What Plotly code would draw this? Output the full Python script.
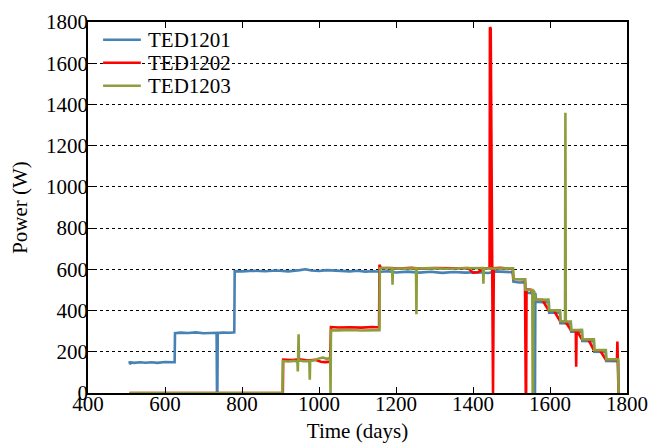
import plotly.graph_objects as go

# TED1201 power log (days, W)
ted1201_days = [508, 509, 512, 520, 535, 550, 565, 580, 600, 615, 625,
                626, 640, 660, 680, 700, 720, 734, 735, 736, 737, 750, 770, 780,
                781, 800, 830, 860, 890, 920, 950, 965, 980, 1000, 1020, 1050,
                1080, 1100, 1120, 1140, 1160, 1180, 1200, 1230, 1260, 1290, 1320,
                1350, 1380, 1410, 1440, 1460, 1480, 1503,
                1505, 1520, 1535, 1537, 1550, 1559, 1560, 1561, 1562, 1564, 1580,
                1597, 1598, 1612, 1626, 1627, 1640, 1654, 1655, 1670, 1683, 1684,
                1700, 1714, 1715, 1730, 1745, 1746, 1760, 1777, 1778]
ted1201_power = [155, 140, 148, 146, 149, 147, 149, 146, 150, 148, 149,
                 290, 293, 291, 294, 290, 293, 292, 0, 0, 291, 293, 292, 294,
                 591, 590, 593, 591, 594, 590, 596, 600, 594, 592, 596, 592,
                 590, 593, 589, 591, 588, 591, 585, 589, 584, 588, 583,
                 587, 584, 586, 582, 590, 588, 586,
                 540, 536, 538, 488, 484, 486, 0, 0, 485, 442, 440,
                 441, 390, 388, 389, 338, 336, 337, 298, 297, 298, 252,
                 250, 251, 200, 198, 199, 155, 153, 154, 0]

# TED1202 power log (days, W)
ted1202_days = [508, 906, 907, 930, 950, 970, 990, 1005, 1015, 1029,
                1031, 1050, 1080, 1110, 1140, 1156,
                1157, 1160, 1180, 1210, 1240, 1270, 1300, 1330, 1360, 1387,
                1400, 1413, 1430, 1443, 1444, 1446, 1450, 1452, 1454, 1470,
                1490, 1503, 1505, 1520, 1535, 1537, 1538, 1539, 1550,
                1563, 1580, 1596, 1610, 1626, 1640, 1654, 1667, 1668,
                1669, 1683, 1700, 1714, 1730, 1745, 1760, 1774, 1775, 1776, 1778]
ted1202_power = [0, 0, 162, 160, 163, 158, 161, 152, 150, 152,
                 320, 318, 319, 317, 320, 318,
                 622, 608, 606, 604, 607, 603, 606, 604, 605, 606,
                 584, 586, 604, 606, 1775, 1768, 606, 0, 605, 607,
                 604, 605, 553, 551, 552, 0, 0, 503, 501,
                 454, 452, 402, 400, 349, 347, 306, 305, 127,
                 305, 260, 258, 208, 206, 162, 160, 161, 250, 162, 0]

# TED1203 power log (days, W)
ted1203_days = [508, 905, 906, 920, 935, 944, 945, 946, 947, 948, 960,
                975, 976, 977, 990, 1000, 1010, 1020, 1029, 1030, 1031,
                1050, 1080, 1110, 1140, 1157, 1158, 1175, 1190, 1191, 1192,
                1220, 1252, 1253, 1254, 1290, 1330, 1370, 1400, 1426, 1427,
                1428, 1460, 1490, 1504, 1505, 1520, 1535, 1536, 1554, 1555,
                1556, 1557, 1563, 1580, 1596, 1597, 1612, 1626, 1627, 1639,
                1640, 1641, 1654, 1655, 1670, 1683, 1684, 1700, 1714, 1715,
                1730, 1745, 1746, 1760, 1777, 1778]
ted1203_power = [0, 0, 155, 153, 156, 152, 105, 154, 285, 158, 154,
                 155, 65, 156, 160, 168, 172, 166, 170, 0, 305,
                 304, 306, 303, 305, 305, 605, 604, 606, 525, 605,
                 604, 605, 382, 604, 606, 603, 605, 604, 606, 530,
                 605, 604, 606, 605, 553, 551, 552, 501, 500, 0,
                 0, 500, 453, 452, 453, 401, 400, 401, 349, 348,
                 1360, 348, 347, 306, 305, 306, 260, 259, 260, 208,
                 207, 208, 163, 162, 163, 0]

series_names = ["TED1201", "TED1202", "TED1203"]
series_colors = ["#4682b4", "#ff0000", "#8c9f3c"]

x_ticks = [400, 600, 800, 1000, 1200, 1400, 1600, 1800]
y_ticks = [0, 200, 400, 600, 800, 1000, 1200, 1400, 1600, 1800]

FONT = "Liberation Serif"
FSIZE = 21
LINE_W = 2.6

fig = go.Figure()
for name, color, xs, ys in zip(series_names, series_colors,
                               [ted1201_days, ted1202_days, ted1203_days],
                               [ted1201_power, ted1202_power, ted1203_power]):
    fig.add_trace(go.Scatter(x=xs, y=ys, mode="lines", name=name,
                             line=dict(color=color, width=LINE_W),
                             showlegend=False))

axis_common = dict(
    showline=True, linecolor="black", linewidth=1.5, mirror="ticks",
    ticks="inside", ticklen=6, tickcolor="black", tickwidth=1,
    zeroline=False, automargin=False,
    tickfont=dict(family=FONT, size=FSIZE, color="black"),
)

fig.update_xaxes(range=[400, 1800], tickvals=x_ticks, showgrid=False,
                 ticklabelstandoff=-9,
                 title=dict(text="Time (days)", standoff=9,
                            font=dict(family=FONT, size=FSIZE, color="black")),
                 **axis_common)
fig.update_yaxes(range=[0, 1800], tickvals=y_ticks, showgrid=True,
                 gridcolor="black", griddash="dot", gridwidth=1,
                 ticklabelstandoff=-6,
                 title=dict(text="Power (W)", standoff=13,
                            font=dict(family=FONT, size=FSIZE, color="black")),
                 **axis_common)

# legend: short colour swatch plus label for each series, top-left of the axes
legend_shapes = []
legend_notes = []
for i, (name, color) in enumerate(zip(series_names, series_colors)):
    ypos = 0.952 - i * 0.062
    legend_shapes.append(dict(type="line", xref="paper", yref="paper",
                              x0=0.028, x1=0.098, y0=ypos, y1=ypos,
                              line=dict(color=color, width=LINE_W)))
    legend_notes.append(dict(xref="paper", yref="paper", x=0.108, y=ypos,
                             xanchor="left", yanchor="middle", showarrow=False,
                             text=name,
                             font=dict(family=FONT, size=FSIZE, color="black")))

fig.update_layout(
    width=649, height=443,
    margin=dict(l=88, r=22, t=22, b=50),
    paper_bgcolor="white", plot_bgcolor="white",
    font=dict(family=FONT, size=FSIZE, color="black"),
    shapes=legend_shapes,
    annotations=legend_notes,
    showlegend=False,
)

fig.write_html("out.html")
